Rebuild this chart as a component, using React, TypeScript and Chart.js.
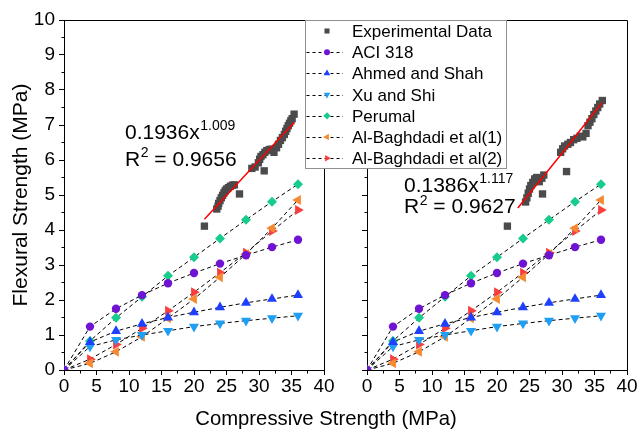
import React, { useEffect, useRef } from 'react';
import { Chart, registerables } from 'chart.js';

Chart.register(...registerables);

const FONT = "'Liberation Sans', Arial, Helvetica, sans-serif";

// ---------- data ----------
const modelX = [0, 4, 8, 12, 16, 20, 24, 28, 32, 36];
const aci318 = [0, 1.24, 1.75, 2.14, 2.48, 2.77, 3.04, 3.28, 3.51, 3.72];
const ahmedShah = [0, 0.8, 1.11, 1.32, 1.5, 1.65, 1.79, 1.92, 2.03, 2.14];
const xuShi = [0, 0.67, 0.86, 1.0, 1.12, 1.24, 1.33, 1.41, 1.48, 1.55];
const perumal = [0, 0.83, 1.49, 2.09, 2.69, 3.22, 3.76, 4.29, 4.81, 5.31];
const baghdadi1 = [0, 0.19, 0.52, 0.95, 1.48, 2.03, 2.65, 3.31, 4.05, 4.86];
const baghdadi2 = [0, 0.31, 0.73, 1.19, 1.69, 2.22, 2.78, 3.35, 3.97, 4.57];

const expLeftX = [21.6, 23.5, 23.7, 23.8, 24.0, 24.2, 24.4, 24.6, 24.8, 25.0, 25.3, 25.6, 25.9, 26.2, 27.0,
  28.9, 29.4, 29.9, 30.1, 30.3, 30.8, 30.6, 30.9, 31.2, 31.6, 32.0, 32.3, 32.7, 33.0, 33.3, 33.6, 33.9, 34.1, 34.3, 34.5, 34.7, 34.9, 35.1, 35.4];
const expLeftY = [4.11, 4.6, 4.68, 4.76, 4.84, 4.92, 4.99, 5.06, 5.12, 5.17, 5.21, 5.25, 5.28, 5.29, 5.03,
  5.76, 5.8, 5.92, 6.02, 6.1, 5.69, 6.15, 6.22, 6.27, 6.3, 6.31, 6.22, 6.35, 6.45, 6.56, 6.64, 6.73, 6.82, 6.9, 6.98, 7.05, 7.12, 7.18, 7.31];

const expRightX = [21.6, 24.4, 24.6, 24.8, 25.0, 25.2, 25.5, 25.8, 26.1, 26.5, 26.9, 27.2, 27.0,
  29.8, 30.1, 30.4, 30.7, 30.9, 31.3, 31.8, 32.3, 32.8, 33.2, 33.7, 34.0, 34.3, 34.6, 34.9, 35.2, 35.5, 35.8, 36.2];
const expRightY = [4.11, 4.8, 4.92, 5.05, 5.17, 5.27, 5.36, 5.46, 5.5, 5.38, 5.48, 5.57, 5.03,
  6.22, 6.32, 6.4, 5.67, 6.45, 6.5, 6.58, 6.62, 6.68, 6.66, 6.76, 6.98, 7.08, 7.18, 7.3, 7.4, 7.5, 7.6, 7.7];

const fitLeftX = [21.6, 35.4];
const fitLeftY = [4.31, 7.07];
const fitRightX = [23.2, 29.7, 36.1];
const fitRightY = [4.63, 6.12, 7.63];

const expLabel = 'Experimental Data';
const xTitle = 'Compressive Strength (MPa)';
const yTitle = 'Flexural Strength (MPa)';
const eqLeft = ['0.1936x', '1.009', '0.9656'];
const eqRight = ['0.1386x', '1.117', '0.9627'];

// ---------- styles ----------
const EXP_COLOR = '#4B4B4B';
const models = [
  { label: 'ACI 318', values: aci318, color: '#7014D4', style: 'circle', rot: 0, r: 4.2, lr: 3 },
  { label: 'Ahmed and Shah', values: ahmedShah, color: '#1F3FFF', style: 'triangle', rot: 0, r: 5.8, lr: 3.8 },
  { label: 'Xu and Shi', values: xuShi, color: '#1E9EF5', style: 'triangle', rot: 180, r: 5.8, lr: 3.8 },
  { label: 'Perumal', values: perumal, color: '#18CC8C', style: 'rectRot', rot: 0, r: 5, lr: 3.6 },
  { label: 'Al-Baghdadi et al(1)', values: baghdadi1, color: '#F58A32', style: 'triangle', rot: 270, r: 5.8, lr: 3.8 },
  { label: 'Al-Baghdadi et al(2)', values: baghdadi2, color: '#F83E3E', style: 'triangle', rot: 90, r: 5.8, lr: 3.8 },
];

const zip = (xs: number[], ys: number[]) => xs.map((x, i) => ({ x, y: ys[i] }));

function drawMarker(ctx: CanvasRenderingContext2D, style: string, x: number, y: number, r: number, rotDeg: number, color: string) {
  ctx.save();
  ctx.fillStyle = color;
  ctx.beginPath();
  if (style === 'circle') {
    ctx.arc(x, y, r, 0, Math.PI * 2);
  } else if (style === 'rect') {
    const s = Math.SQRT1_2 * r;
    ctx.rect(x - s, y - s, 2 * s, 2 * s);
  } else if (style === 'rectRot') {
    ctx.moveTo(x - r, y);
    ctx.lineTo(x, y - r);
    ctx.lineTo(x + r, y);
    ctx.lineTo(x, y + r);
    ctx.closePath();
  } else {
    let rad = (rotDeg * Math.PI) / 180;
    for (let k = 0; k < 3; k++) {
      const px = x + Math.sin(rad) * r;
      const py = y - Math.cos(rad) * r;
      if (k === 0) ctx.moveTo(px, py);
      else ctx.lineTo(px, py);
      rad += (2 * Math.PI) / 3;
    }
    ctx.closePath();
  }
  ctx.fill();
  ctx.restore();
}

const framePlugin = {
  id: 'frameTicks',
  afterDraw(chart: any) {
    const { ctx, chartArea } = chart;
    const { left, right, top, bottom } = chartArea;
    const xs = chart.scales.x;
    const ys = chart.scales.y;
    const a = (v: number) => Math.round(v - 0.5) + 0.5;
    ctx.save();
    ctx.strokeStyle = '#000';
    ctx.lineWidth = 1;
    ctx.beginPath();
    ctx.moveTo(a(left), a(top));
    ctx.lineTo(a(right), a(top));
    ctx.lineTo(a(right), a(bottom));
    for (let v = 0.5; v < 10; v += 1) {
      const py = a(ys.getPixelForValue(v));
      ctx.moveTo(a(left) - 3, py);
      ctx.lineTo(a(left), py);
    }
    for (let v = 2.5; v < 40; v += 5) {
      const px = a(xs.getPixelForValue(v));
      ctx.moveTo(px, a(bottom));
      ctx.lineTo(px, a(bottom) + 3);
    }
    ctx.stroke();
    ctx.restore();
  },
};

function drawEquation(ctx: CanvasRenderingContext2D, eq: string[], x: number, b1: number, b2: number) {
  ctx.fillStyle = '#000';
  ctx.textAlign = 'left';
  ctx.textBaseline = 'alphabetic';
  ctx.font = `21px ${FONT}`;
  ctx.fillText(eq[0], x, b1);
  const w1 = ctx.measureText(eq[0]).width;
  ctx.font = `14px ${FONT}`;
  ctx.fillText(eq[1], x + w1 + 0.5, b1 - 9);
  ctx.font = `21px ${FONT}`;
  ctx.fillText('R', x, b2);
  const wr = ctx.measureText('R').width;
  ctx.font = `14px ${FONT}`;
  ctx.fillText('2', x + wr + 0.5, b2 - 8.5);
  const w2 = ctx.measureText('2').width;
  ctx.font = `21px ${FONT}`;
  ctx.fillText(' = ' + eq[2], x + wr + w2 + 0.5, b2);
}

const overlayPlugin = {
  id: 'overlay',
  afterDraw(chart: any) {
    const ctx: CanvasRenderingContext2D = chart.ctx;
    ctx.save();
    drawEquation(ctx, eqLeft, 125, 139.3, 165.7);
    drawEquation(ctx, eqRight, 404, 192.3, 213.3);
    // legend
    ctx.fillStyle = '#fff';
    ctx.fillRect(305, 20, 202, 149);
    ctx.strokeStyle = '#8f8f8f';
    ctx.lineWidth = 1;
    ctx.strokeRect(305.5, 20.5, 201, 148);
    const rows = [{ label: expLabel, style: 'rect', rot: 0, color: EXP_COLOR, lr: 3.6, line: false },
      ...models.map((m) => ({ label: m.label, style: m.style, rot: m.rot, color: m.color, lr: m.lr, line: true }))];
    rows.forEach((row, i) => {
      const cy = 31 + i * 21.2;
      if (row.line) {
        ctx.save();
        ctx.strokeStyle = '#000';
        ctx.lineWidth = 1;
        ctx.setLineDash([3, 3]);
        ctx.beginPath();
        ctx.moveTo(306.5, Math.round(cy) + 0.5);
        ctx.lineTo(343, Math.round(cy) + 0.5);
        ctx.stroke();
        ctx.restore();
      }
      drawMarker(ctx, row.style, 327, cy, row.lr, row.rot, row.color);
      ctx.fillStyle = '#000';
      ctx.font = `17px ${FONT}`;
      ctx.textAlign = 'left';
      ctx.textBaseline = 'alphabetic';
      ctx.fillText(row.label, 352, cy + 6);
    });
    // axis titles
    ctx.fillStyle = '#000';
    ctx.font = `20.3px ${FONT}`;
    ctx.textAlign = 'center';
    ctx.textBaseline = 'alphabetic';
    ctx.fillText(xTitle, 326, 425);
    ctx.font = `21px ${FONT}`;
    ctx.translate(27, 195);
    ctx.rotate(-Math.PI / 2);
    ctx.fillText(yTitle, 0, 0);
    ctx.restore();
  },
};

function panelConfig(isLeft: boolean, expX: number[], expY: number[], fitX: number[], fitY: number[]): any {
  const tickFont = { family: FONT, size: 19 };
  return {
    type: 'line',
    data: {
      datasets: [
        {
          data: zip(fitX, fitY), borderColor: '#FF0000', borderWidth: 1.5, pointRadius: 0, showLine: true, tension: 0,
        },
        {
          data: zip(expX, expY), showLine: false, pointStyle: 'rect', pointRadius: 5.2,
          pointBackgroundColor: EXP_COLOR, pointBorderColor: EXP_COLOR, pointBorderWidth: 0,
        },
        ...models.map((m) => ({
          data: zip(modelX, m.values), borderColor: '#000', borderWidth: 1, borderDash: [4, 3], tension: 0,
          showLine: true, pointStyle: m.style, pointRotation: m.rot, pointRadius: m.r,
          pointBackgroundColor: m.color, pointBorderColor: m.color, pointBorderWidth: 0,
        })),
      ],
    },
    options: {
      animation: false,
      responsive: false,
      devicePixelRatio: 1,
      events: [],
      layout: { padding: { left: 0, right: isLeft ? 316 : 13, top: 20, bottom: 0 } },
      plugins: { legend: { display: false }, tooltip: { enabled: false } },
      scales: {
        x: {
          type: 'linear', min: 0, max: 40,
          afterFit: (s: any) => { s.height = 61; },
          ticks: { stepSize: 5, color: '#000', font: tickFont, padding: 0, maxRotation: 0, autoSkip: false },
          grid: { drawOnChartArea: false, color: '#000', tickLength: 5, tickWidth: 1 },
          border: { color: '#000', width: 1 },
        },
        y: {
          type: 'linear', min: 0, max: 10,
          afterFit: (s: any) => { s.width = isLeft ? 64 : 367; },
          ticks: {
            stepSize: 1, color: '#000', font: tickFont, padding: 4, autoSkip: false,
            callback: isLeft ? (v: any) => String(v) : () => '',
          },
          grid: { drawOnChartArea: false, color: '#000', tickLength: 5, tickWidth: 1 },
          border: { color: '#000', width: 1 },
        },
      },
    },
    plugins: isLeft ? [framePlugin] : [framePlugin, overlayPlugin],
  };
}

export default function App() {
  const leftRef = useRef<HTMLCanvasElement>(null);
  const rightRef = useRef<HTMLCanvasElement>(null);
  useEffect(() => {
    Chart.defaults.font.family = FONT;
    const l = new Chart(leftRef.current as HTMLCanvasElement, panelConfig(true, expLeftX, expLeftY, fitLeftX, fitLeftY));
    const r = new Chart(rightRef.current as HTMLCanvasElement, panelConfig(false, expRightX, expRightY, fitRightX, fitRightY));
    return () => {
      l.destroy();
      r.destroy();
    };
  }, []);
  return (
    <div style={{ position: 'fixed', left: 0, top: 0, width: 640, height: 431, background: '#fff' }}>
      <canvas ref={leftRef} width={640} height={431} style={{ position: 'absolute', left: 0, top: 0 }} />
      <canvas ref={rightRef} width={640} height={431} style={{ position: 'absolute', left: 0, top: 0 }} />
    </div>
  );
}
